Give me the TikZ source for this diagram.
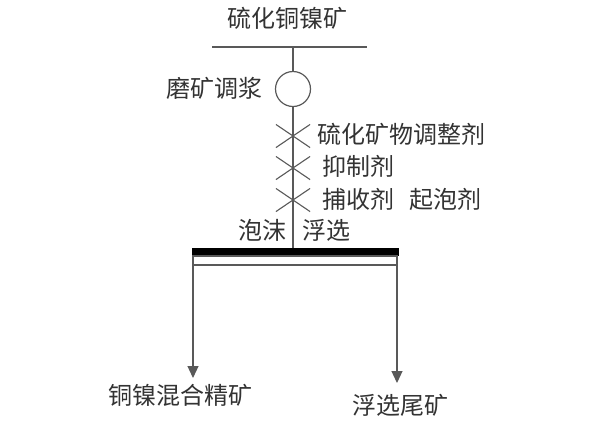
\documentclass[tikz,border=0pt]{standalone}
\usepackage{fontspec}
\setmainfont{Noto Sans CJK SC}
\usetikzlibrary{arrows.meta,shapes.misc}
\begin{document}
\begin{tikzpicture}[x=1pt,y=-1pt,
  every node/.style={font=\fontsize{24}{28}\selectfont, text=black!80, inner sep=0pt},
  ln/.style={draw=black!65, line width=1.2pt},
  xmark/.style={cross out, draw=black!65, line width=1.1pt, minimum width=33pt, minimum height=22pt, inner sep=0pt},
  arr/.style={ln, -{Triangle[length=12pt,width=11pt]}}]
\useasboundingbox[fill=white] (0,0) rectangle (600,424);
\node (feed) at (287,18) {硫化铜镍矿};
\coordinate (hl) at (212,47);
\coordinate (hr) at (367,47);
\coordinate (top) at (293,47);
\draw[ln] (hl) -- (hr);
\node[circle, draw=black!65, line width=1.2pt, minimum size=35pt] (mill) at (293,89) {};
\node[anchor=east] (millL) at (263,88) {磨矿调浆};
\draw[ln] (top) -- (mill.north);
\node[xmark] (x1) at (293,136) {};
\node[xmark] (x2) at (293,168) {};
\node[xmark] (x3) at (293,200) {};
\node[anchor=west] (l1) at (317,134) {硫化矿物调整剂};
\node[anchor=west] (l2) at (322,166) {抑制剂};
\node[anchor=west] (l3) at (322,199) {捕收剂};
\node[anchor=west] (l4) at (409,199) {起泡剂};
\node[anchor=east] (fl) at (287,230) {泡沫};
\node[anchor=west] (fr) at (302,230) {浮选};
\node[fill=black, minimum width=207pt, minimum height=8pt] (bar) at (295.5,252) {};
\coordinate (sub) at (293,248);
\draw[ln] (mill.south) -- (sub);
\coordinate (bl) at (193,256);
\coordinate (br) at (397,265);
\draw[ln] (bl) rectangle (br);
\coordinate (a1s) at (193,265);
\coordinate (a1e) at (193,378);
\coordinate (a2s) at (397,265);
\coordinate (a2e) at (397,383);
\draw[arr] (a1s) -- (a1e);
\draw[arr] (a2s) -- (a2e);
\node[anchor=west] (conc) at (108,395) {铜镍混合精矿};
\node[anchor=west] (tail) at (352,405) {浮选尾矿};
\end{tikzpicture}
\end{document}
